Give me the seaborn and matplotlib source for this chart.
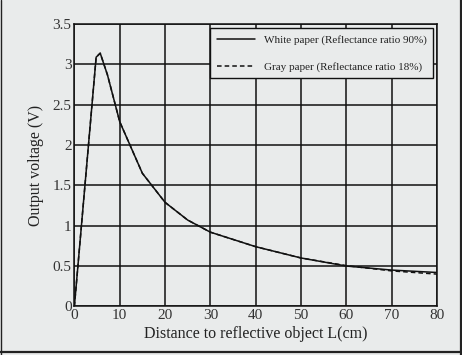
import matplotlib
matplotlib.use("Agg")
import matplotlib.pyplot as plt
from matplotlib.lines import Line2D
import seaborn as sns
import pandas as pd

distance_white = [0, 4.8, 5.7, 7.3, 10, 15, 20, 25, 30, 40, 50, 60, 70, 80]
voltage_white = [0, 3.09, 3.14, 2.87, 2.29, 1.65, 1.29, 1.07, 0.92, 0.74, 0.60, 0.50, 0.45, 0.42]
distance_gray = [0, 4.8, 5.7, 7.3, 10, 15, 20, 25, 30, 40, 50, 60, 70, 80]
voltage_gray = [0, 3.09, 3.14, 2.87, 2.29, 1.65, 1.29, 1.07, 0.92, 0.74, 0.60, 0.505, 0.44, 0.40]
series_names = ["White paper (Reflectance ratio 90%)", "Gray paper (Reflectance ratio 18%)"]
x_ticks = [0, 10, 20, 30, 40, 50, 60, 70, 80]
y_ticks = [0, 0.5, 1, 1.5, 2, 2.5, 3, 3.5]
y_tick_labels = ["0", "0.5", "1", "1.5", "2", "2.5", "3", "3.5"]

df = pd.concat([
    pd.DataFrame({"x": distance_white, "y": voltage_white, "series": series_names[0]}),
    pd.DataFrame({"x": distance_gray, "y": voltage_gray, "series": series_names[1]}),
])

sns.set_style("white")
plt.rcParams["font.family"] = ["Liberation Serif", "DejaVu Serif"]

bg = "#e9ebeb"
fig = plt.figure(figsize=(4.62, 3.55), dpi=100, facecolor=bg)
ax = fig.add_axes([0.161, 0.137, 0.785, 0.795])
ax.set_facecolor(bg)

sns.lineplot(data=df, x="x", y="y", style="series", hue="series",
             palette=["#111111", "#111111"], dashes=[(None, None), (3, 2)],
             linewidth=1.1, ax=ax, legend=True, sort=False)

ax.set_xlim(0, 80)
ax.set_ylim(0, 3.5)
ax.set_xticks(x_ticks)
ax.set_xticklabels([str(t) for t in x_ticks])
ax.set_yticks(y_ticks)
ax.set_yticklabels(y_tick_labels)
ax.grid(True, color="#111111", linewidth=1.1)
ax.set_axisbelow(True)
for s in ax.spines.values():
    s.set_color("#111111")
    s.set_linewidth(1.1)
ax.tick_params(axis="both", labelsize=11, colors="#333333", length=0, pad=2)
ax.set_xlabel("Distance to reflective object L(cm)", fontsize=11.5, color="#222222", labelpad=3)
ax.set_ylabel("Output voltage (V)", fontsize=11.5, color="#222222", labelpad=6)

leg = ax.legend(loc="upper right", bbox_to_anchor=(0.989, 0.985), fontsize=8,
                frameon=True, fancybox=False, facecolor=bg, framealpha=1,
                edgecolor="#111111", handlelength=3.4, labelspacing=1.5,
                borderpad=0.6, handletextpad=0.8, borderaxespad=0)
leg.get_frame().set_linewidth(1.0)
for t in leg.get_texts():
    t.set_color("#222222")

W, H = 462.0, 355.0
fig.add_artist(Line2D([0.5 / W, 0.5 / W], [0, 1], transform=fig.transFigure,
                      color="#222222", linewidth=1.0))
fig.add_artist(Line2D([0, 1], [3.5 / H, 3.5 / H], transform=fig.transFigure,
                      color="#222222", linewidth=1.6))
fig.add_artist(Line2D([460.5 / W, 460.5 / W], [0, 1], transform=fig.transFigure,
                      color="#222222", linewidth=1.6))

fig.savefig("out.png", dpi=100, facecolor=bg)
